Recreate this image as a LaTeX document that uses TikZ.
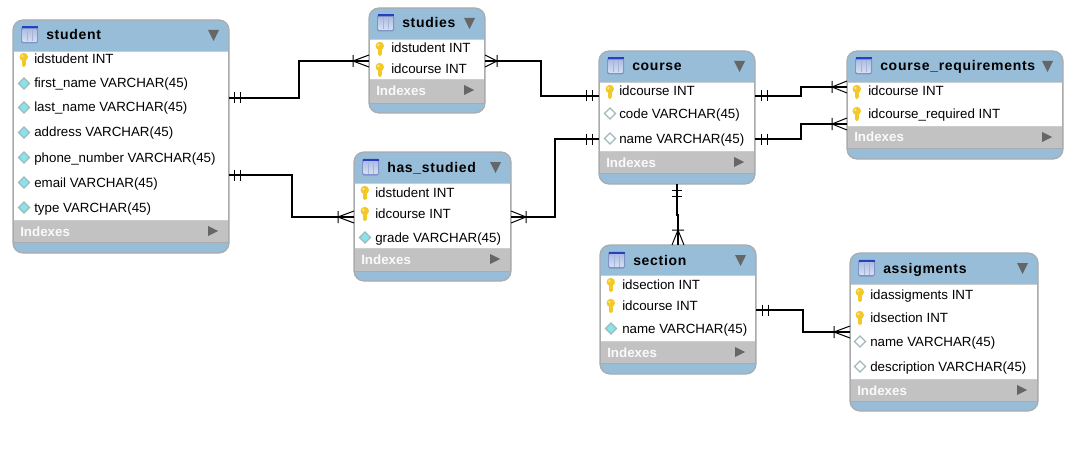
\documentclass[tikz,border=0pt]{standalone}
\usepackage{fontspec}
\setmainfont{Liberation Sans}
\newfontfamily\ertitlefont[LetterSpace=5]{Liberation Sans Bold}
\definecolor{erblue}{HTML}{97BDD8}
\definecolor{erborder}{HTML}{A9ABAD}
\definecolor{ergrey}{HTML}{C2C2C2}
\definecolor{erarrow}{HTML}{666666}
\definecolor{ericon}{HTML}{C3D2EE}
\definecolor{ericonb}{HTML}{7F93C8}
\definecolor{erdark}{HTML}{2A3FC0}
\definecolor{erkeyc}{HTML}{F2C927}
\definecolor{erdia}{HTML}{86E4EA}
\definecolor{erdiae}{HTML}{9FB9BC}
\tikzset{
  ertable/.style={draw=erborder,fill=erblue,line width=0.9pt,rounded corners=7.5pt,inner sep=0pt,outer sep=0pt},
  ertitle/.style={anchor=base west,inner sep=0pt,font=\ertitlefont\fontsize{10.5}{12}\selectfont,text=black},
  erfield/.style={anchor=base west,inner sep=0pt,font=\fontsize{10}{12}\selectfont,text=black},
  erindex/.style={anchor=base west,inner sep=0pt,font=\bfseries\fontsize{10}{12}\selectfont,text=white!92!ergrey},
  erline/.style={draw=black,line width=0.85pt,line join=miter},
  ertick/.style={draw=black,line width=0.75pt},
}
% name, title, x0,y0,x1,y1, header bottom, white bottom, grey bottom
\newcommand{\ertablebox}[9]{%
  \pgfmathsetlengthmacro{\erw}{(#5-#3)*0.75pt}%
  \pgfmathsetlengthmacro{\erh}{(#6-#4)*0.75pt}%
  \node[ertable,minimum width=\erw,minimum height=\erh] (#1) at ({(#3+#5)/2},{(#4+#6)/2}) {};
  \fill[white] (#3+0.6,#7) rectangle (#5-0.6,#8);
  \fill[ergrey] (#3+0.6,#8) rectangle (#5-0.6,#9);
  \draw[erborder,line width=0.7pt] (#3+0.6,#9) -- (#5-0.6,#9);
  \draw[erborder!60!white,line width=0.5pt] (#3+0.6,#8) -- (#5-0.6,#8);
  \draw[erborder!60!white,line width=0.5pt] (#3+0.6,#7) -- (#5-0.6,#7);
  \draw[erborder,line width=0.7pt] (#3+0.3,#7) -- (#3+0.3,#9) (#5-0.3,#7) -- (#5-0.3,#9);
  % table icon
  \fill[ericonb,rounded corners=1.2pt] (#3+8,#4+6.5) rectangle (#3+25,#4+23.5);
  \shade[top color=ericon!70!ericonb,bottom color=ericon!70!white] (#3+9.5,#4+9.5) rectangle (#3+23.5,#4+21.5);
  \fill[erdark] (#3+8.5,#4+6.5) rectangle (#3+24.5,#4+8.5);
  \draw[ericonb!70!white,line width=0.4pt] (#3+14,#4+9.5) -- (#3+14,#4+21.5) (#3+19,#4+9.5) -- (#3+19,#4+21.5);
  % collapse triangle
  \fill[erarrow] (#5-21,#4+10) -- (#5-10,#4+10) -- (#5-15.5,#4+21) -- cycle;
  % indexes triangle
  \fill[erarrow] (#5-21,#8+6) -- (#5-11,#8+11) -- (#5-21,#8+16) -- cycle;
  \node[erindex] (#1idx) at (#3+7,#8+16) {Indexes};
  \node[ertitle] (#1title) at (#3+33,#4+20) {#2};
}
\newcommand{\erkey}[2]{%
  \fill[erkeyc] (#1-2,#2-2) rectangle (#1+1.6,#2+6);
  \fill[erkeyc] (#1-0.2,#2+6) circle [radius=1.8];
  \fill[erkeyc] (#1-0.2,#2-2.5) circle [radius=4.2];
  \fill[white!55!erkeyc] (#1-1.6,#2-3.5) circle [radius=1.3];
}
\newcommand{\erdiamond}[3]{%
  \filldraw[draw=erdiae,fill=#3,line width=0.85pt] (#1-5.5,#2) -- (#1,#2-5.5) -- (#1+5.5,#2) -- (#1,#2+5.5) -- cycle;
}
% id, kind(k/c/w), icon x, text x, baseline, text
\newcommand{\errow}[6]{%
  \pgfmathsetmacro{\eri}{#5-4.5}%
  \ifx#2k\erkey{#3}{\eri}\fi
  \ifx#2c\erdiamond{#3}{\eri}{erdia}\fi
  \ifx#2w\erdiamond{#3}{\eri}{white}\fi
  \node[erfield] (#1) at (#4,#5) {#6};
}
\newcommand{\erbars}[4]{%
  \draw[ertick] (#1,#2-#4) -- (#1,#2+#4) (#3,#2-#4) -- (#3,#2+#4);
}
\begin{document}
\begin{tikzpicture}[x=0.75pt,y=-0.75pt]
\useasboundingbox (0,0) rectangle (1082,460);
% tables
\ertablebox{student}{student}{13}{20}{229}{253}{51}{220}{242}
\errow{s1}{k}{24}{34}{64}{idstudent INT}
\errow{s2}{c}{24}{34}{88}{first\_name VARCHAR(45)}
\errow{s3}{c}{24}{34}{112}{last\_name VARCHAR(45)}
\errow{s4}{c}{24}{34}{137}{address VARCHAR(45)}
\errow{s5}{c}{24}{34}{162}{phone\_number VARCHAR(45)}
\errow{s6}{c}{24}{34}{187}{email VARCHAR(45)}
\errow{s7}{c}{24}{34}{212}{type VARCHAR(45)}

\ertablebox{studies}{studies}{369}{8}{485}{113}{39}{79}{103}
\errow{t1}{k}{380}{391}{53}{idstudent INT}
\errow{t2}{k}{380}{391}{74}{idcourse INT}

\ertablebox{hasstudied}{has\_studied}{354}{152}{511}{281}{183}{248}{271}
\errow{h1}{k}{365}{375}{197}{idstudent INT}
\errow{h2}{k}{365}{375}{218}{idcourse INT}
\errow{h3}{c}{365}{375}{242}{grade VARCHAR(45)}

\ertablebox{course}{course}{599}{51}{755}{184}{82}{151}{173}
\errow{c1}{k}{610}{619}{96}{idcourse INT}
\errow{c2}{w}{610}{619}{118}{code VARCHAR(45)}
\errow{c3}{w}{610}{619}{143}{name VARCHAR(45)}

\ertablebox{coursereq}{course\_requirements}{847}{51}{1063}{159}{82}{126}{148}
\errow{r1}{k}{857}{868}{96}{idcourse INT}
\errow{r2}{k}{857}{868}{118}{idcourse\_required INT}

\ertablebox{section}{section}{600}{245}{756}{374}{275}{341}{363}
\errow{e1}{k}{611}{622}{289}{idsection INT}
\errow{e2}{k}{611}{622}{310}{idcourse INT}
\errow{e3}{c}{611}{622}{333}{name VARCHAR(45)}

\ertablebox{assigments}{assigments}{850}{253}{1038}{411}{284}{379}{401}
\errow{a1}{k}{860}{870}{299}{idassigments INT}
\errow{a2}{k}{860}{870}{322}{idsection INT}
\errow{a3}{w}{860}{870}{346}{name VARCHAR(45)}
\errow{a4}{w}{860}{870}{371}{description VARCHAR(45)}

% connectors
\coordinate (p1a) at (student.east |- 0,98);
\coordinate (p1b) at (studies.west |- 0,61);
\draw[erline] (p1a) -| (299,61) -- (p1b);
\erbars{234}{98}{240}{5.5}
\draw[ertick] (353,55) -- (353,67) (353,61) -- (369,55) (353,61) -- (369,67);

\coordinate (p2a) at (studies.east |- 0,61);
\coordinate (p2b) at (course.west |- 0,96);
\draw[erline] (p2a) -| (541,96) -- (p2b);
\draw[ertick] (497,55) -- (497,67) (497,61) -- (485,55) (497,61) -- (485,67);
\erbars{586}{96}{592}{5.5}

\coordinate (p3a) at (student.east |- 0,175);
\coordinate (p3b) at (hasstudied.west |- 0,217);
\draw[erline] (p3a) -| (292,217) -- (p3b);
\erbars{234}{175}{240}{5.5}
\draw[ertick] (338,211) -- (338,223) (338,217) -- (354,211) (338,217) -- (354,223);

\coordinate (p4a) at (hasstudied.east |- 0,217);
\coordinate (p4b) at (course.west |- 0,139);
\draw[erline] (p4a) -| (555,139) -- (p4b);
\draw[ertick] (526,211) -- (526,223) (526,217) -- (511,211) (526,217) -- (511,223);
\erbars{586}{139}{592}{5.5}

\coordinate (p5a) at (course.south -| 677,0);
\coordinate (p5b) at (section.north -| 678,0);
\draw[erline] (p5a) -- (677,215) -- (678,215) -- (p5b);
\draw[ertick] (672,190) -- (682,190) (672,196) -- (682,196);
\draw[ertick] (672,230) -- (684,230) (678,230) -- (672,245) (678,230) -- (684,245);

\coordinate (p6a) at (course.east |- 0,96);
\coordinate (p6b) at (coursereq.west |- 0,87);
\draw[erline] (p6a) -| (801,87) -- (p6b);
\erbars{761}{96}{767}{5.5}
\draw[ertick] (832,81) -- (832,93) (832,87) -- (847,81) (832,87) -- (847,93);

\coordinate (p7a) at (course.east |- 0,139);
\coordinate (p7b) at (coursereq.west |- 0,124);
\draw[erline] (p7a) -| (801,124) -- (p7b);
\erbars{761}{139}{767}{5.5}
\draw[ertick] (832,118) -- (832,130) (832,124) -- (847,118) (832,124) -- (847,130);

\coordinate (p8a) at (section.east |- 0,310);
\coordinate (p8b) at (assigments.west |- 0,332);
\draw[erline] (p8a) -| (803,332) -- (p8b);
\erbars{762}{310}{768}{5.5}
\draw[ertick] (834,326) -- (834,338) (834,332) -- (850,326) (834,332) -- (850,338);
\end{tikzpicture}
\end{document}
